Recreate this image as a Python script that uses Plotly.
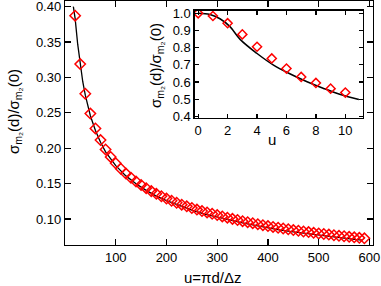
import plotly.graph_objects as go

# Main panel: simulation (markers) and theory (line)
u_sim = [20, 30, 40, 50, 60, 70, 80, 90, 100, 110, 120, 130, 140, 150, 160, 170, 180, 190,
         200, 210, 220, 230, 240, 250, 260, 270, 280, 290, 300, 310, 320, 330, 340, 350,
         360, 370, 380, 390, 400, 410, 420, 430, 440, 450, 460, 470, 480, 490, 500, 510,
         520, 530, 540, 550, 560, 570, 580, 590]
ratio_sim = [0.3873, 0.3189, 0.2770, 0.2490, 0.2280, 0.2116, 0.1984, 0.1878, 0.1789, 0.1711,
             0.1643, 0.1584, 0.1531, 0.1483, 0.1437, 0.1395, 0.1357, 0.1322, 0.1290, 0.1259,
             0.1231, 0.1204, 0.1180, 0.1156, 0.1134, 0.1113, 0.1094, 0.1075, 0.1057, 0.1038,
             0.1020, 0.1003, 0.0987, 0.0971, 0.0956, 0.0942, 0.0928, 0.0914, 0.0901, 0.0889,
             0.0878, 0.0867, 0.0856, 0.0845, 0.0835, 0.0825, 0.0816, 0.0806, 0.0797, 0.0789,
             0.0781, 0.0772, 0.0764, 0.0757, 0.0749, 0.0742, 0.0735, 0.0728]

u_theory = [16.5, 18, 20, 25, 30, 35, 40, 50, 60, 70, 80, 90, 100, 120, 140, 160, 180, 200,
            225, 250, 275, 300, 325, 350, 375, 400, 425, 450, 475, 500, 525, 550, 575, 586]
ratio_theory = [0.400, 0.392, 0.383, 0.347, 0.317, 0.294, 0.275, 0.246, 0.225, 0.2085, 0.195,
                0.1845, 0.1755, 0.161, 0.150, 0.1405, 0.1325, 0.126, 0.119, 0.1125, 0.107,
                0.1025, 0.0985, 0.0945, 0.091, 0.0875, 0.0845, 0.082, 0.0795, 0.0772, 0.075,
                0.073, 0.071, 0.0702]

# Inset: small u
u_sim_inset = [0, 1, 2, 3, 4, 5, 6, 7, 8, 9, 10]
ratio_sim_inset = [1.0, 0.984, 0.942, 0.877, 0.805, 0.737, 0.678, 0.629, 0.594, 0.561, 0.538]

u_theory_inset = [0, 0.8, 1.48, 2.16, 2.85, 3.98, 5.12, 6.26, 7.4, 8.53, 9.67, 10.92]
ratio_theory_inset = [1.0, 0.993, 0.968, 0.922, 0.848, 0.767, 0.698, 0.646, 0.601, 0.562,
                      0.527, 0.498]

main_xticks = [100, 200, 300, 400, 500, 600]
main_yticks = [0.10, 0.15, 0.20, 0.25, 0.30, 0.35, 0.40]
inset_xticks = [0, 2, 4, 6, 8, 10]
inset_yticks = [0.4, 0.5, 0.6, 0.7, 0.8, 0.9, 1.0]

FONT = "Liberation Sans, Arial, sans-serif"
ytitle = "σ<sub>m₂</sub>(d)/σ<sub>m₂</sub>(0)"
xtitle_main = "u=πd/Δz"
xtitle_inset = "u"

fig = go.Figure()
fig.add_trace(go.Scatter(x=u_theory, y=ratio_theory, mode="lines",
                         line=dict(color="black", width=1.3), showlegend=False))
fig.add_trace(go.Scatter(x=u_sim, y=ratio_sim, mode="markers",
                         marker=dict(symbol="diamond-open", size=8, color="#ff0000",
                                     line=dict(width=1.5)), showlegend=False))
fig.add_trace(go.Scatter(x=u_theory_inset, y=ratio_theory_inset, mode="lines",
                         line=dict(color="black", width=1.5, shape="spline"),
                         xaxis="x2", yaxis="y2", showlegend=False))
fig.add_trace(go.Scatter(x=u_sim_inset, y=ratio_sim_inset, mode="markers",
                         marker=dict(symbol="diamond-open", size=7, color="#ff0000",
                                     line=dict(width=1.5)),
                         xaxis="x2", yaxis="y2", showlegend=False))

axis_common = dict(showline=True, linecolor="black", linewidth=1.2, mirror="ticks",
                   ticks="inside", tickcolor="black", showgrid=False, zeroline=False,
                   automargin=False, ticklabeloverflow="allow",
                   tickfont=dict(family=FONT, size=13, color="black"))

title_font = dict(family=FONT, size=15, color="black")

fig.update_layout(
    width=381, height=286,
    margin=dict(l=65, r=8, t=1, b=41, autoexpand=False),
    plot_bgcolor="white", paper_bgcolor="white",
    font=dict(family=FONT, color="black"),
    xaxis=dict(range=[0, 607], tickvals=main_xticks, ticklen=6, tickwidth=1.2,
               **axis_common),
    yaxis=dict(range=[0.0634, 0.408], tickvals=main_yticks, tickformat=".2f",
               ticklen=6, tickwidth=1.2, **axis_common),
    xaxis2=dict(domain=[0.4205, 0.9675], anchor="y2", range=[-0.25, 11.2],
                tickvals=inset_xticks, ticklen=4, tickwidth=1.2, **axis_common),
    yaxis2=dict(domain=[0.5205, 0.961], anchor="x2", range=[0.39, 1.016],
                tickvals=inset_yticks, tickformat=".1f", ticklen=4, tickwidth=1.2,
                **axis_common),
    annotations=[
        dict(text=xtitle_main, xref="paper", yref="paper", x=(212 - 65) / 308,
             y=(245 - 277) / 244, xanchor="center", yanchor="middle",
             showarrow=False, font=title_font),
        dict(text=ytitle, xref="paper", yref="paper", x=(14 - 65) / 308,
             y=(245 - 112) / 244, xanchor="center", yanchor="middle", textangle=-90,
             showarrow=False, font=title_font),
        dict(text=xtitle_inset, xref="paper", yref="paper", x=(272 - 65) / 308,
             y=(245 - 139) / 244, xanchor="center", yanchor="middle",
             showarrow=False, font=title_font),
        dict(text=ytitle, xref="paper", yref="paper", x=(156 - 65) / 308,
             y=(245 - 66) / 244, xanchor="center", yanchor="middle", textangle=-90,
             showarrow=False, font=title_font),
    ],
)

fig.write_html("out.html",
               config={"displayModeBar": False, "staticPlot": True},
               post_script="document.body.style.margin='0';document.body.style.overflow='hidden';")
